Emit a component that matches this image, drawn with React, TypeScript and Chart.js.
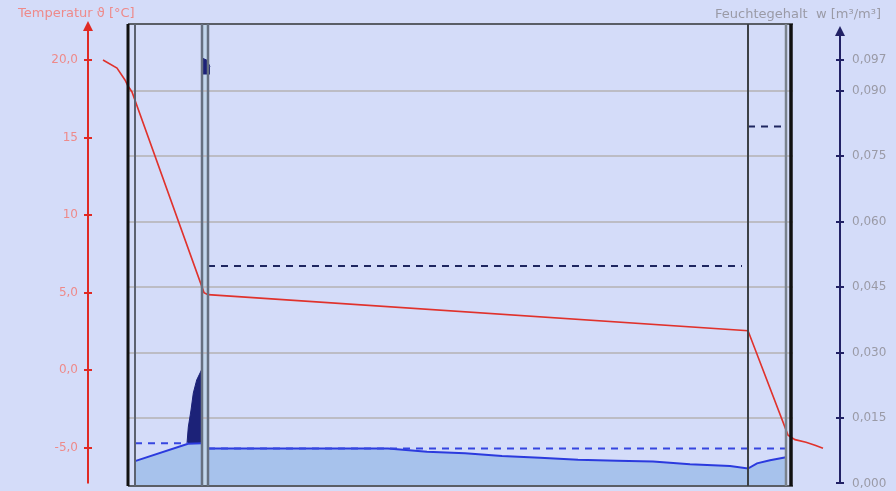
import React, { useEffect, useRef } from "react";
import { Chart, registerables } from "chart.js";

Chart.register(...registerables);

// ---- axis ticks ----
const tempTicks = [20, 15, 10, 5, 0, -5];
const tempTickLabels = ["20,0", "15", "10", "5,0", "0,0", "-5,0"];
const moistTicks = [0.097, 0.09, 0.075, 0.06, 0.045, 0.03, 0.015, 0];
const moistTickLabels = ["0,097", "0,090", "0,075", "0,060", "0,045", "0,030", "0,015", "0,000"];
const gridValues = [0.09, 0.075, 0.06, 0.045, 0.03, 0.015];

const tempTitle = "Temperatur \u03D1 [\u00B0C]";
const moistTitle = "Feuchtegehalt  w [m\u00B3/m\u00B3]";

// ---- wall geometry (position units) ----
const layerBounds = [0, 3.5, 37, 40, 310, 329, 331.5];
const frameStart = 0;
const frameEnd = 332.5;
const membraneLayer = [37, 40];

// ---- temperature profile ----
const tempX = [-12.5, -5.5, -1.5, 0, 2, 38, 40, 310, 330, 333.5, 339, 343.5, 347.5];
const tempC = [20.0, 19.48, 18.71, 18.32, 17.94, 5.0, 4.87, 2.54, -4.19, -4.48, -4.65, -4.84, -5.03];

// ---- water content profile ----
const moistLeftX = [3.5, 30, 37];
const moistLeftW = [0.0051, 0.0091, 0.0092];
const moistRightX = [40, 130, 149.5, 168.5, 187, 206, 225, 244.5, 262.5, 281, 301, 310, 314.5, 321, 329];
const moistRightW = [0.008, 0.008, 0.00725, 0.0069, 0.0063, 0.0059, 0.0054, 0.0052, 0.005, 0.0044, 0.004, 0.0034, 0.0046, 0.0053, 0.006];
const spikeX = [29.5, 30.15, 31.5, 32.65, 34.35, 36.75, 37];
const spikeW = [0.0092, 0.0129, 0.0168, 0.0207, 0.0237, 0.026, 0.026];
const topMarkX = [37, 39.5, 41];
const topMarkW = [0.0975, 0.097, 0.0955];
const topMarkBase = 0.0937;

// ---- reference (dashed) levels ----
const refNavyAX = [40, 307];
const refNavyA = 0.0498;
const refNavyBX = [310, 326.5];
const refNavyB = 0.0818;
const refBlueAX = [3.5, 30];
const refBlueA = 0.0092;
const refBlueBX = [40, 328.5];
const refBlueB = 0.008;

const pts = (xs: number[], ys: number[]) => xs.map((x, i) => ({ x, y: ys[i] }));
const flat = (xs: number[], v: number) => xs.map((x) => ({ x, y: v }));

const lineStyles = [
  { c: "#111111", w: 3 },
  { c: "#5c6270", w: 2 },
  { c: "#667080", w: 2.5 },
  { c: "#667080", w: 2.5 },
  { c: "#3c4046", w: 2 },
  { c: "#7a828c", w: 2.5 },
  { c: "#111111", w: 3.5 },
];

const decor = {
  id: "decor",
  beforeDatasetsDraw(chart: any) {
    const { ctx, chartArea, scales } = chart;
    const x = scales.x;
    const yw = scales.yW;
    ctx.save();
    const a = x.getPixelForValue(membraneLayer[0]);
    const b = x.getPixelForValue(membraneLayer[1]);
    ctx.fillStyle = "#c2d6ec";
    ctx.fillRect(a, chartArea.top, b - a, chartArea.bottom - chartArea.top);
    ctx.strokeStyle = "#bcbcc4";
    ctx.lineWidth = 2;
    gridValues.forEach((v) => {
      const py = Math.round(yw.getPixelForValue(v));
      ctx.beginPath();
      ctx.moveTo(x.getPixelForValue(frameStart), py);
      ctx.lineTo(x.getPixelForValue(frameEnd), py);
      ctx.stroke();
    });
    ctx.restore();
  },
  afterDatasetsDraw(chart: any) {
    const { ctx, chartArea, scales } = chart;
    const x = scales.x;
    const yw = scales.yW;
    const yt = scales.yT;
    ctx.save();
    // frame
    ctx.strokeStyle = "#5a5e66";
    ctx.lineWidth = 2;
    ctx.beginPath();
    ctx.moveTo(x.getPixelForValue(frameStart), chartArea.top);
    ctx.lineTo(x.getPixelForValue(frameEnd), chartArea.top);
    ctx.moveTo(x.getPixelForValue(frameStart), chartArea.bottom);
    ctx.lineTo(x.getPixelForValue(frameEnd), chartArea.bottom);
    ctx.stroke();
    // layer boundaries
    layerBounds.forEach((v, i) => {
      const px = x.getPixelForValue(v);
      ctx.strokeStyle = lineStyles[i].c;
      ctx.lineWidth = lineStyles[i].w;
      ctx.beginPath();
      ctx.moveTo(px, chartArea.top);
      ctx.lineTo(px, chartArea.bottom);
      ctx.stroke();
    });
    // axes
    const bottom = yw.getPixelForValue(0);
    const lx = chartArea.left;
    const rx = chartArea.right;
    const drawAxis = (ax: number, tip: number, color: string, ticks: number[], scale: any) => {
      ctx.strokeStyle = color;
      ctx.fillStyle = color;
      ctx.lineWidth = 2;
      ctx.beginPath();
      ctx.moveTo(ax, tip + 4);
      ctx.lineTo(ax, bottom);
      ctx.stroke();
      ctx.beginPath();
      ctx.moveTo(ax, tip);
      ctx.lineTo(ax - 5, tip + 10);
      ctx.lineTo(ax + 5, tip + 10);
      ctx.closePath();
      ctx.fill();
      ticks.forEach((t) => {
        const py = Math.round(scale.getPixelForValue(t));
        ctx.beginPath();
        ctx.moveTo(ax - 4, py);
        ctx.lineTo(ax + 4, py);
        ctx.stroke();
      });
    };
    drawAxis(lx, 21, "#e02a24", tempTicks, yt);
    drawAxis(rx, 26, "#222266", moistTicks, yw);
    // titles
    ctx.font = "13px 'DejaVu Sans'";
    ctx.textBaseline = "middle";
    ctx.textAlign = "left";
    ctx.fillStyle = "#ee8a8a";
    ctx.fillText(tempTitle, 18, 14);
    ctx.fillStyle = "#9a9aa6";
    ctx.textAlign = "right";
    ctx.fillText(moistTitle, 881, 15);
    ctx.restore();
  },
};

export default function App() {
  const ref = useRef<HTMLCanvasElement | null>(null);
  useEffect(() => {
    if (!ref.current) return;
    const dashed = (data: any[], color: string, order: number) => ({
      type: "line",
      data,
      yAxisID: "yW",
      borderColor: color,
      borderWidth: 2,
      borderDash: [7, 6],
      pointRadius: 0,
      fill: false,
      order,
    });
    const chart = new Chart(ref.current, {
      type: "line",
      data: {
        datasets: [
          {
            data: pts(spikeX, spikeW),
            yAxisID: "yW",
            borderColor: "#1c2278",
            borderWidth: 1,
            backgroundColor: "#1c2278",
            fill: "start",
            pointRadius: 0,
            order: 5,
          },
          {
            data: pts(topMarkX, topMarkW),
            yAxisID: "yW",
            borderColor: "#1c2278",
            borderWidth: 1,
            backgroundColor: "#1c2278",
            fill: { value: topMarkBase },
            pointRadius: 0,
            order: 5,
          },
          {
            data: pts(moistLeftX, moistLeftW),
            yAxisID: "yW",
            borderColor: "#2b3ade",
            borderWidth: 2,
            backgroundColor: "#a7c2ec",
            fill: "start",
            pointRadius: 0,
            order: 4,
          },
          {
            data: pts(moistRightX, moistRightW),
            yAxisID: "yW",
            borderColor: "#2b3ade",
            borderWidth: 2,
            backgroundColor: "#a7c2ec",
            fill: "start",
            pointRadius: 0,
            order: 4,
          },
          dashed(flat(refNavyAX, refNavyA), "#1e2660", 2),
          dashed(flat(refNavyBX, refNavyB), "#1e2660", 2),
          dashed(flat(refBlueAX, refBlueA), "#3646e0", 2),
          dashed(flat(refBlueBX, refBlueB), "#3646e0", 2),
          {
            data: pts(tempX, tempC),
            yAxisID: "yT",
            borderColor: "#e0322c",
            borderWidth: 1.6,
            pointRadius: 0,
            fill: false,
            order: 1,
          },
        ] as any,
      },
      options: {
        animation: false,
        responsive: false,
        devicePixelRatio: 1,
        parsing: false as any,
        layout: { padding: { top: 24, bottom: 5, left: 0, right: 0 } },
        plugins: { legend: { display: false }, tooltip: { enabled: false }, filler: { drawTime: "beforeDatasetDraw" } as any },
        scales: {
          x: { type: "linear", display: false, min: -20, max: 356 },
          yT: {
            type: "linear",
            position: "left",
            min: -7.47,
            max: 22.32,
            grid: { display: false, drawTicks: false },
            border: { display: false },
            afterBuildTicks: (s: any) => {
              s.ticks = tempTicks.map((v) => ({ value: v }));
            },
            afterFit: (s: any) => {
              s.width = 88;
              s.paddingTop = 0;
              s.paddingBottom = 0;
            },
            ticks: {
              autoSkip: false,
              padding: 10,
              color: "#ee8a8a",
              font: { family: "'DejaVu Sans'", size: 12 },
              callback: (v: any) => tempTickLabels[tempTicks.indexOf(Number(v))] ?? "",
            },
          },
          yW: {
            type: "linear",
            position: "right",
            min: -0.0006,
            max: 0.1053,
            grid: { display: false, drawTicks: false },
            border: { display: false },
            afterBuildTicks: (s: any) => {
              s.ticks = moistTicks.map((v) => ({ value: v }));
            },
            afterFit: (s: any) => {
              s.width = 56;
              s.paddingTop = 0;
              s.paddingBottom = 0;
            },
            ticks: {
              autoSkip: false,
              padding: 12,
              color: "#9a9aa6",
              font: { family: "'DejaVu Sans'", size: 12 },
              callback: (v: any) => moistTickLabels[moistTicks.indexOf(Number(v))] ?? "",
            },
          },
        } as any,
      },
      plugins: [decor],
    } as any);
    return () => chart.destroy();
  }, []);
  return (
    <div style={{ position: "absolute", left: 0, top: 0, width: 896, height: 491, background: "#d4dcf9" }}>
      <canvas ref={ref} width={896} height={491} style={{ display: "block" }} />
    </div>
  );
}
